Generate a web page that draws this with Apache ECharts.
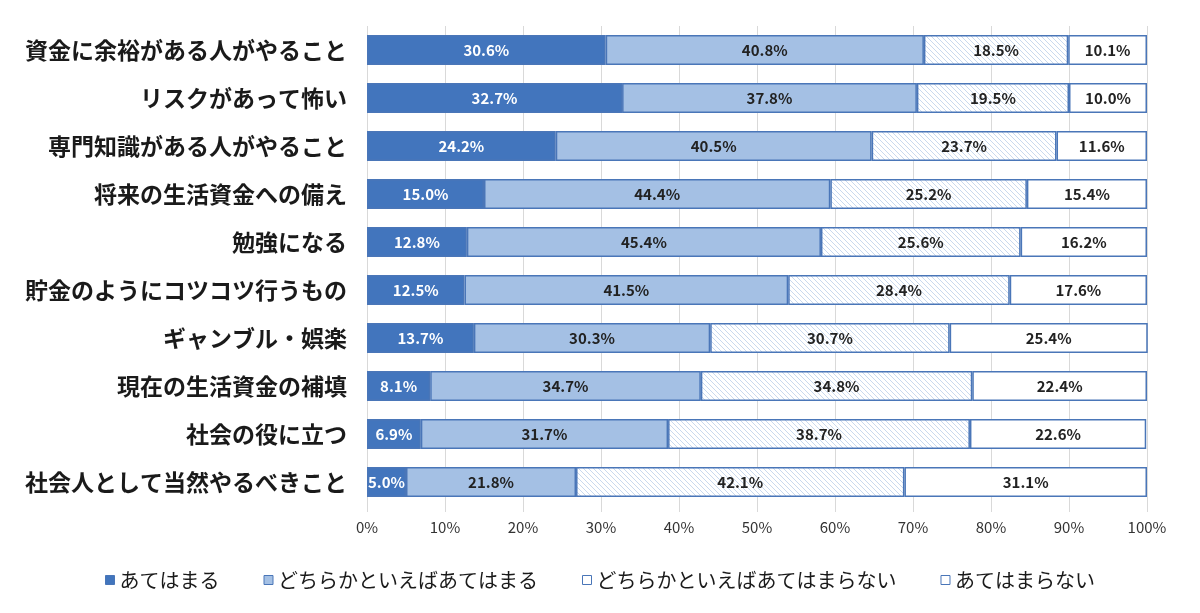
<!DOCTYPE html>
<html>
<head>
<meta charset="utf-8">
<script src="https://cdn.jsdelivr.net/npm/echarts@6/dist/echarts.min.js"></script>
<style>
  html, body { margin: 0; padding: 0; background: #fff; }
  #main { width: 1200px; height: 613px; }
</style>
</head>
<body>
<div id="main"></div>
<script>
// data (percent)
var categories = [
  '資金に余裕がある人がやること',
  'リスクがあって怖い',
  '専門知識がある人がやること',
  '将来の生活資金への備え',
  '勉強になる',
  '貯金のようにコツコツ行うもの',
  'ギャンブル・娯楽',
  '現在の生活資金の補填',
  '社会の役に立つ',
  '社会人として当然やるべきこと'
];
var seriesNames = ['あてはまる', 'どちらかといえばあてはまる', 'どちらかといえばあてはまらない', 'あてはまらない'];
var atehamaru     = [30.6, 32.7, 24.2, 15.0, 12.8, 12.5, 13.7, 8.1, 6.9, 5.0];
var dochiraAte    = [40.8, 37.8, 40.5, 44.4, 45.4, 41.5, 30.3, 34.7, 31.7, 21.8];
var dochiraNai    = [18.5, 19.5, 23.7, 25.2, 25.6, 28.4, 30.7, 34.8, 38.7, 42.1];
var atehamaranai  = [10.1, 10.0, 11.6, 15.4, 16.2, 17.6, 25.4, 22.4, 22.6, 31.1];
var xTicks = [0, 10, 20, 30, 40, 50, 60, 70, 80, 90, 100];

// hatch pattern for the 3rd series
function hatch() {
  var c = document.createElement('canvas');
  c.width = 5; c.height = 5;
  var ctx = c.getContext('2d');
  ctx.fillStyle = '#ffffff';
  ctx.fillRect(0, 0, 5, 5);
  ctx.strokeStyle = '#c9d9ee';
  ctx.lineWidth = 1;
  ctx.beginPath();
  ctx.moveTo(0, 0); ctx.lineTo(5, 5);
  ctx.moveTo(-3, 2); ctx.lineTo(3, 8);
  ctx.moveTo(2, -3); ctx.lineTo(8, 3);
  ctx.stroke();
  return c;
}

var font = '"Noto Sans CJK JP", "Noto Sans", sans-serif';
var border = '#4a76b8';
var fills = ['#4275bd', '#a4c0e4', { image: hatch(), repeat: 'repeat' }, '#ffffff'];
var labelColors = ['#ffffff', '#222', '#222', '#222'];
var values = [atehamaru, dochiraAte, dochiraNai, atehamaranai];

var chart = echarts.init(document.getElementById('main'));

var series = seriesNames.map(function (name, i) {
  return {
    name: name,
    type: 'bar',
    stack: 'all',
    barWidth: 30,
    data: values[i],
    itemStyle: { color: fills[i], borderColor: border, borderWidth: 1.5 },
    label: {
      show: true,
      position: 'inside',
      formatter: function (p) { return p.value.toFixed(1) + '%'; },
      color: labelColors[i],
      fontFamily: font,
      fontSize: 15,
      fontWeight: 'bold'
    },
    emphasis: { disabled: true }
  };
});

chart.setOption({
  animation: false,
  backgroundColor: '#fff',
  grid: { left: 367, right: 53, top: 26, bottom: 107 },
  legend: {
    top: 565,
    left: 'center',
    icon: 'rect',
    itemWidth: 9,
    itemHeight: 9,
    itemGap: 44,
    textStyle: { fontFamily: font, fontSize: 20, color: '#1a1a1a' },
    data: seriesNames.map(function (n, i) {
      return { name: n, itemStyle: { color: i === 2 ? '#ffffff' : fills[i], borderColor: border, borderWidth: 1 } };
    })
  },
  xAxis: {
    type: 'value',
    min: 0,
    max: 100,
    interval: 10,
    axisLine: { show: false },
    axisTick: { show: true, length: 6, lineStyle: { color: '#d9d9d9' } },
    splitLine: { show: true, lineStyle: { color: '#d9d9d9' } },
    axisLabel: {
      margin: 14,
      fontFamily: font,
      fontSize: 15,
      color: '#333',
      formatter: function (v) { return xTicks.indexOf(v) >= 0 ? v + '%' : ''; }
    }
  },
  yAxis: {
    type: 'category',
    inverse: true,
    data: categories,
    axisLine: { show: false },
    axisTick: { show: false },
    axisLabel: {
      margin: 20,
      fontFamily: font,
      fontSize: 23,
      fontWeight: 'bold',
      color: '#1a1a1a'
    }
  },
  series: series
});
</script>
</body>
</html>
